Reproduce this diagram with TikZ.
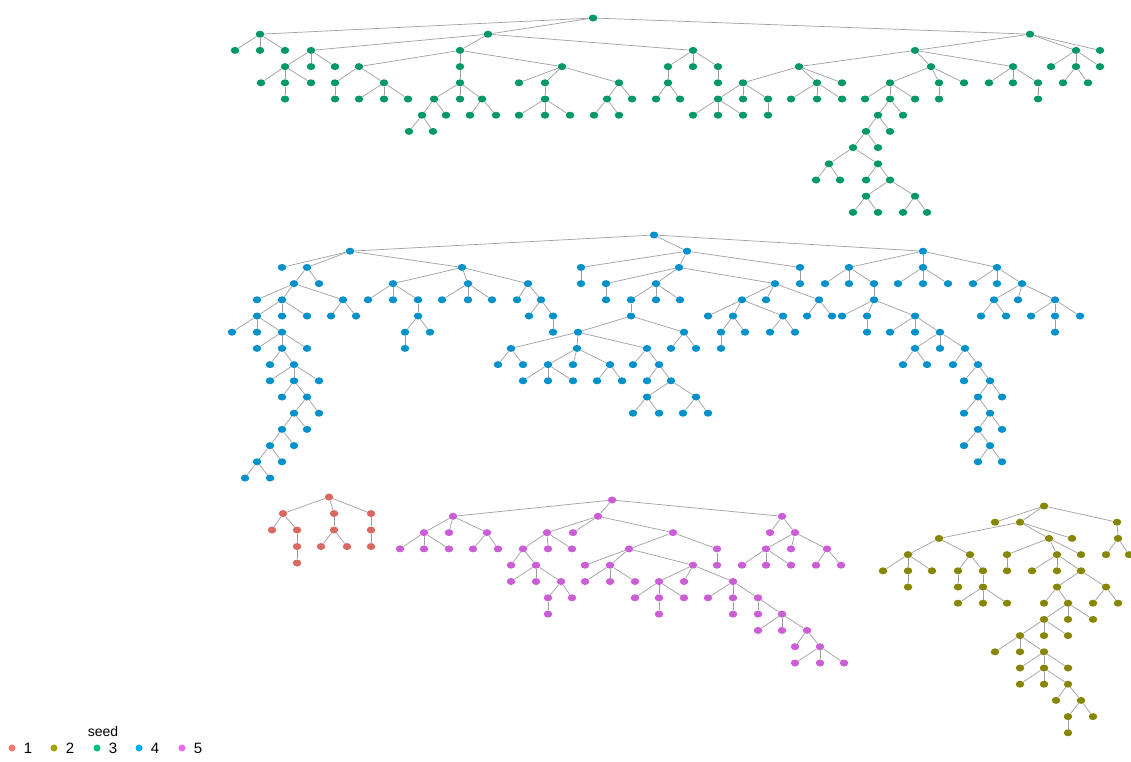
\documentclass[tikz,border=0pt]{standalone}
\usepackage{fontspec}
\setmainfont{Liberation Sans}
\usetikzlibrary{shapes.geometric,positioning}

\definecolor{seedA}{HTML}{F8766D}
\definecolor{seedB}{HTML}{A3A500}
\definecolor{seedC}{HTML}{00BF7D}
\definecolor{seedD}{HTML}{00B0F6}
\definecolor{seedE}{HTML}{E76BF3}
\colorlet{nodeA}{seedA!88!black}
\colorlet{nodeB}{seedB!82!black}
\colorlet{nodeC}{seedC!80!black}
\colorlet{nodeD}{seedD!82!black}
\colorlet{nodeE}{seedE!88!black}

\begin{document}
\begin{tikzpicture}[x=1pt, y=-1pt,
  dot/.style={ellipse, minimum width=8.5pt, minimum height=7pt, inner sep=0pt},
  link/.style={draw=gray!75, line width=0.7pt},
  keydot/.style={circle, minimum size=7pt, inner sep=0pt}]
  \useasboundingbox (0,0) rectangle (1131,761);
  \pgfmathsetmacro{\dy}{16.2}

  % seed 3 (top tree)
  \node[dot, fill=nodeC] (g0) at (593,18) {};
  \foreach \n/\x/\l/\p in {
      g1/260/1/g0, g2/488/1/g0, g3/1030/1/g0,
      g4/235/2/g1, g5/260/2/g1, g6/285/2/g1, g7/311/2/g2, g8/460/2/g2, g9/693/2/g2,
      g10/915/2/g3, g11/1076/2/g3, g12/1100/2/g3,
      g13/285/3/g7, g14/311/3/g7, g15/335/3/g7, g16/359/3/g8, g17/460/3/g8, g18/562/3/g8,
      g19/668/3/g9, g20/693/3/g9, g21/718/3/g9, g22/799/3/g10, g23/931/3/g10, g24/1013/3/g10,
      g25/1051/3/g11, g26/1076/3/g11, g27/1100/3/g11,
      g28/261/4/g13, g29/285/4/g13, g30/311/4/g13, g31/335/4/g16, g32/384/4/g16,
      g33/460/4/g17, g34/519/4/g18, g35/545/4/g18, g36/619/4/g18, g37/668/4/g19,
      g38/718/4/g21, g39/743/4/g22, g40/817/4/g22, g41/842/4/g22, g42/890/4/g23,
      g43/939/4/g23, g44/964/4/g23, g45/989/4/g24, g46/1013/4/g24, g47/1038/4/g24,
      g48/1063/4/g26, g49/1088/4/g26,
      g50/285/5/g29, g51/335/5/g31, g52/359/5/g32, g53/384/5/g32, g54/408/5/g32,
      g55/434/5/g33, g56/460/5/g33, g57/482/5/g33, g58/545/5/g35, g59/607/5/g36,
      g60/632/5/g36, g61/656/5/g37, g62/680/5/g37, g63/718/5/g39, g64/743/5/g39,
      g65/768/5/g39, g66/791/5/g40, g67/817/5/g40, g68/842/5/g40, g69/865/5/g42,
      g70/890/5/g42, g71/915/5/g42, g72/939/5/g43, g73/1038/5/g47,
      g74/422/6/g55, g75/446/6/g55, g76/470/6/g57, g77/496/6/g57, g78/519/6/g58,
      g79/545/6/g58, g80/570/6/g58, g81/594/6/g59, g82/619/6/g59, g83/693/6/g63,
      g84/718/6/g63, g85/743/6/g63, g86/768/6/g65, g87/878/6/g70, g88/903/6/g70,
      g89/409/7/g74, g90/433/7/g74, g91/866/7/g87, g92/890/7/g87,
      g93/853/8/g91, g94/878/8/g91, g95/829/9/g93, g96/878/9/g93,
      g97/816/10/g95, g98/840/10/g95, g99/866/10/g96, g100/890/10/g96,
      g101/866/11/g100, g102/915/11/g100,
      g103/853/12/g101, g104/878/12/g101, g105/903/12/g102, g106/927/12/g102} {
    \node[dot, fill=nodeC] (\n) at (\x, {18 + \l*\dy}) {};
    \draw[link] (\p) -- (\n);
  }

  % seed 4 (middle tree)
  \node[dot, fill=nodeD] (b0) at (654,235) {};
  \foreach \n/\x/\l/\p in {
      b1/350/1/b0, b2/687/1/b0, b3/923/1/b0,
      b4/282/2/b1, b5/307/2/b1, b6/462/2/b1, b7/581/2/b2, b8/679/2/b2, b9/800/2/b2,
      b10/849/2/b3, b11/923/2/b3, b12/997/2/b3,
      b13/294/3/b5, b14/319/3/b5, b15/393/3/b6, b16/468/3/b6, b17/528/3/b6, b18/581/3/b7,
      b19/606/3/b8, b20/656/3/b8, b21/775/3/b8, b22/800/3/b9, b23/825/3/b10, b24/849/3/b10,
      b25/874/3/b10, b26/898/3/b11, b27/923/3/b11, b28/948/3/b11, b29/973/3/b12,
      b30/997/3/b12, b31/1022/3/b12,
      b32/257/4/b13, b33/282/4/b13, b34/343/4/b13, b35/368/4/b15, b36/393/4/b15,
      b37/418/4/b15, b38/442/4/b16, b39/468/4/b16, b40/492/4/b16, b41/517/4/b17,
      b42/541/4/b17, b43/606/4/b19, b44/631/4/b20, b45/656/4/b20, b46/680/4/b20,
      b47/742/4/b21, b48/766/4/b21, b49/819/4/b21, b50/874/4/b25, b51/994/4/b31,
      b52/1018/4/b31, b53/1055/4/b31,
      b54/257/5/b33, b55/282/5/b33, b56/307/5/b33, b57/331/5/b34, b58/356/5/b34,
      b59/418/5/b37, b60/529/5/b42, b61/553/5/b42, b62/631/5/b44, b63/708/5/b47,
      b64/733/5/b47, b65/783/5/b47, b66/807/5/b49, b67/832/5/b49, b68/842/5/b50,
      b69/867/5/b50, b70/915/5/b50, b71/981/5/b51, b72/1006/5/b51, b73/1031/5/b53,
      b74/1055/5/b53, b75/1080/5/b53,
      b76/232/6/b54, b77/257/6/b54, b78/282/6/b54, b79/405/6/b59, b80/430/6/b59,
      b81/553/6/b61, b82/578/6/b62, b83/684/6/b62, b84/721/6/b64, b85/745/6/b64,
      b86/770/6/b65, b87/795/6/b65, b88/867/6/b69, b89/890/6/b70, b90/915/6/b70,
      b91/940/6/b70, b92/1055/6/b74,
      b93/257/7/b78, b94/282/7/b78, b95/307/7/b78, b96/405/7/b79, b97/511/7/b82,
      b98/577/7/b82, b99/647/7/b82, b100/671/7/b83, b101/696/7/b83, b102/721/7/b84,
      b103/915/7/b91, b104/940/7/b91, b105/965/7/b91,
      b106/270/8/b94, b107/294/8/b94, b108/498/8/b97, b109/523/8/b97, b110/548/8/b98,
      b111/573/8/b98, b112/610/8/b98, b113/633/8/b99, b114/659/8/b99, b115/903/8/b103,
      b116/927/8/b103, b117/953/8/b105, b118/978/8/b105,
      b119/270/9/b107, b120/294/9/b107, b121/319/9/b107, b122/523/9/b110,
      b123/548/9/b110, b124/573/9/b110, b125/597/9/b112, b126/622/9/b112,
      b127/647/9/b114, b128/671/9/b114, b129/964/9/b118, b130/990/9/b118,
      b131/282/10/b120, b132/307/10/b120, b133/647/10/b128, b134/696/10/b128,
      b135/978/10/b130, b136/1002/10/b130,
      b137/294/11/b132, b138/319/11/b132, b139/633/11/b133, b140/659/11/b133,
      b141/683/11/b134, b142/708/11/b134, b143/964/11/b135, b144/990/11/b135,
      b145/282/12/b137, b146/307/12/b137, b147/978/12/b144, b148/1002/12/b144,
      b149/270/13/b145, b150/294/13/b145, b151/964/13/b147, b152/990/13/b147,
      b153/257/14/b149, b154/282/14/b149, b155/978/14/b152, b156/1002/14/b152,
      b157/245/15/b153, b158/270/15/b153} {
    \node[dot, fill=nodeD] (\n) at (\x, {235 + \l*\dy}) {};
    \draw[link] (\p) -- (\n);
  }

  % seed 1
  \node[dot, fill=nodeA] (r0) at (329,497) {};
  \foreach \n/\x/\l/\p in {
      r1/283/1/r0, r2/334/1/r0, r3/371/1/r0,
      r4/272/2/r1, r5/297/2/r1, r6/334/2/r2, r7/371/2/r3,
      r8/297/3/r5, r9/321/3/r6, r10/347/3/r6, r11/371/3/r7,
      r12/297/4/r8} {
    \node[dot, fill=nodeA] (\n) at (\x, {497 + \l*16.5}) {};
    \draw[link] (\p) -- (\n);
  }

  % seed 5
  \node[dot, fill=nodeE] (m0) at (612,500) {};
  \foreach \n/\x/\l/\p in {
      m1/453/1/m0, m2/598/1/m0, m3/782/1/m0,
      m4/424/2/m1, m5/449/2/m1, m6/487/2/m1, m7/547/2/m2, m8/573/2/m2, m9/673/2/m2,
      m10/770/2/m3, m11/795/2/m3,
      m12/400/3/m4, m13/424/3/m4, m14/449/3/m4, m15/473/3/m6, m16/498/3/m6,
      m17/523/3/m7, m18/548/3/m7, m19/572/3/m7, m20/629/3/m9, m21/717/3/m9,
      m22/766/3/m11, m23/791/3/m11, m24/827/3/m11,
      m25/511/4/m17, m26/536/4/m17, m27/585/4/m20, m28/610/4/m20, m29/693/4/m20,
      m30/717/4/m21, m31/742/4/m22, m32/766/4/m22, m33/791/4/m22, m34/816/4/m24,
      m35/841/4/m24,
      m36/511/5/m26, m37/536/5/m26, m38/561/5/m26, m39/585/5/m28, m40/610/5/m28,
      m41/635/5/m28, m42/659/5/m29, m43/684/5/m29, m44/733/5/m29,
      m45/548/6/m38, m46/572/6/m38, m47/635/6/m42, m48/659/6/m42, m49/684/6/m42,
      m50/708/6/m44, m51/733/6/m44, m52/758/6/m44,
      m53/548/7/m45, m54/659/7/m48, m55/733/7/m51, m56/758/7/m52, m57/782/7/m52,
      m58/758/8/m57, m59/782/8/m57, m60/807/8/m57,
      m61/795/9/m60, m62/820/9/m60,
      m63/795/10/m62, m64/820/10/m62, m65/844/10/m62} {
    \node[dot, fill=nodeE] (\n) at (\x, {500 + \l*16.3}) {};
    \draw[link] (\p) -- (\n);
  }

  % seed 2
  \node[dot, fill=nodeB] (o0) at (1044,506) {};
  \foreach \n/\x/\l/\p in {
      o1/995/1/o0, o2/1020/1/o0, o3/1117/1/o0,
      o4/939/2/o2, o5/1049/2/o2, o6/1072/2/o2, o7/1118/2/o3,
      o8/908/3/o4, o9/970/3/o4, o10/1007/3/o5, o11/1057/3/o5, o12/1081/3/o5,
      o13/1106/3/o7, o14/1129/3/o7,
      o15/883/4/o8, o16/908/4/o8, o17/932/4/o8, o18/958/4/o9, o19/983/4/o9,
      o20/1007/4/o10, o21/1032/4/o11, o22/1057/4/o11, o23/1081/4/o11,
      o24/908/5/o16, o25/958/5/o18, o26/983/5/o19, o27/1057/5/o23, o28/1106/5/o23,
      o29/958/6/o26, o30/983/6/o26, o31/1007/6/o26, o32/1044/6/o27, o33/1068/6/o27,
      o34/1093/6/o28, o35/1118/6/o28,
      o36/1044/7/o33, o37/1068/7/o33, o38/1093/7/o33,
      o39/1020/8/o36, o40/1044/8/o36, o41/1068/8/o36,
      o42/995/9/o39, o43/1020/9/o39, o44/1044/9/o39,
      o45/1020/10/o44, o46/1044/10/o44, o47/1068/10/o44,
      o48/1020/11/o46, o49/1044/11/o46, o50/1068/11/o46,
      o51/1056/12/o50, o52/1081/12/o50,
      o53/1068/13/o52, o54/1093/13/o52,
      o55/1068/14/o53} {
    \node[dot, fill=nodeB] (\n) at (\x, {506 + \l*\dy}) {};
    \draw[link] (\p) -- (\n);
  }

  % legend
  \node[font=\fontsize{14}{16}\selectfont] (keytitle) at (103,731) {seed};
  \foreach \i/\c/\xd in {1/seedA/12, 2/seedB/54, 3/seedC/97, 4/seedD/139, 5/seedE/182} {
    \node[keydot, fill=\c] (k\i) at (\xd,748) {};
    \node[right=8pt of k\i, inner sep=0pt, font=\fontsize{15}{16}\selectfont] (t\i) {\i};
  }
\end{tikzpicture}
\end{document}
